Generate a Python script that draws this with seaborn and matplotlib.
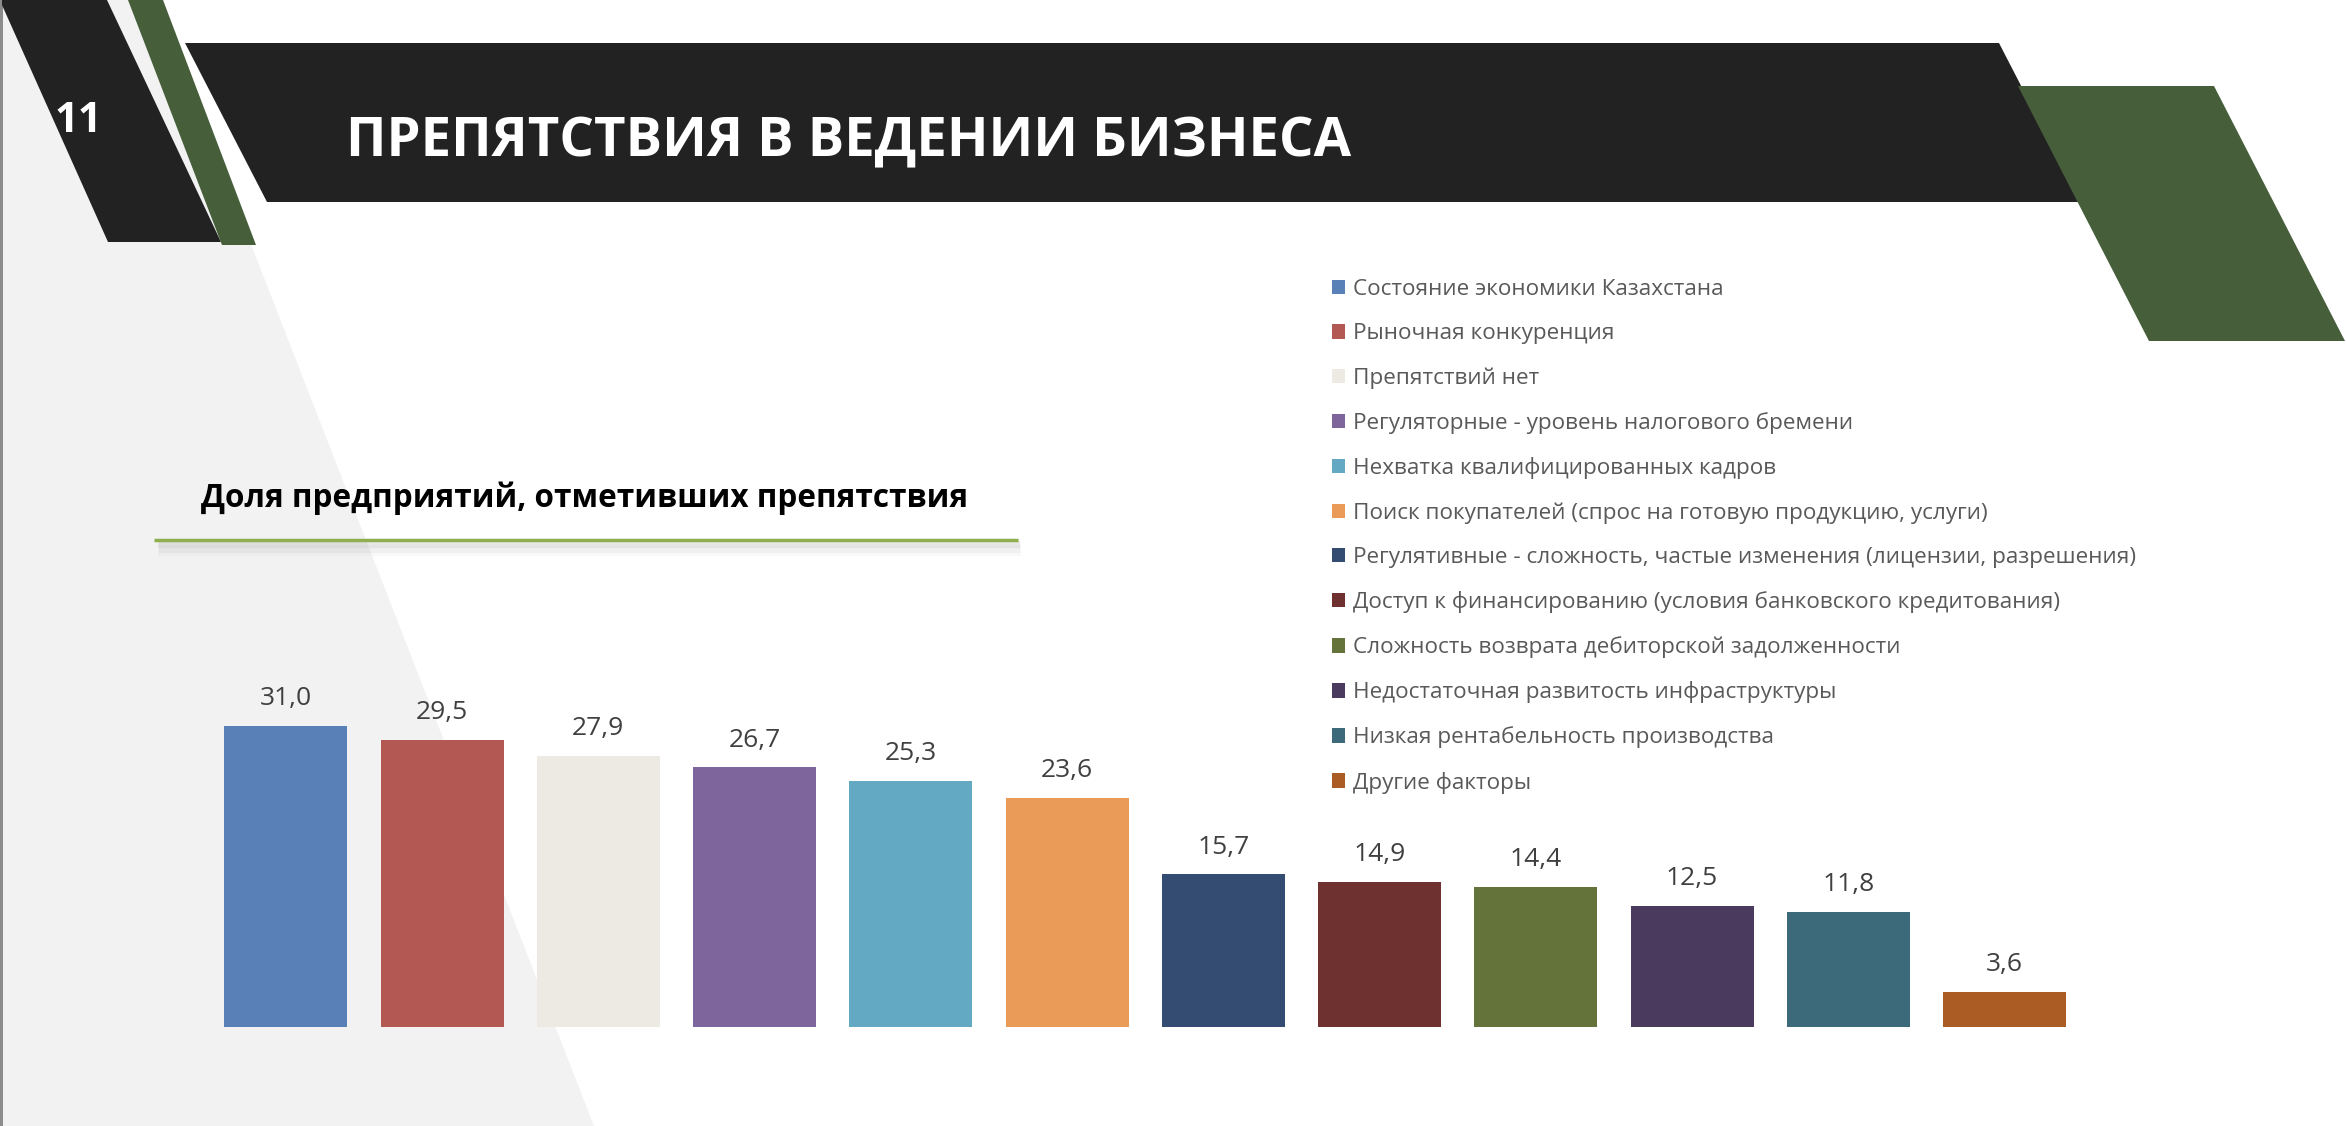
import numpy as np
import pandas as pd
import matplotlib
matplotlib.use("Agg")
import matplotlib.pyplot as plt
from matplotlib.patches import Polygon, Patch
import seaborn as sns

# ---------------- data ----------------
categories = [
    "Состояние экономики Казахстана",
    "Рыночная конкуренция",
    "Препятствий нет",
    "Регуляторные - уровень налогового бремени",
    "Нехватка квалифицированных кадров",
    "Поиск покупателей (спрос на готовую продукцию, услуги)",
    "Регулятивные - сложность, частые изменения (лицензии, разрешения)",
    "Доступ к финансированию (условия банковского кредитования)",
    "Сложность возврата дебиторской задолженности",
    "Недостаточная развитость инфраструктуры",
    "Низкая рентабельность производства",
    "Другие факторы",
]
values = [31.0, 29.5, 27.9, 26.7, 25.3, 23.6, 15.7, 14.9, 14.4, 12.5, 11.8, 3.6]
colors = ["#5A80B8", "#B35853", "#EDEAE3", "#7E659C", "#64A9C4", "#EA9B57",
          "#344C72", "#6F3030", "#637339", "#4A3B5E", "#3C6A7A", "#AA5C24"]
title = "ПРЕПЯТСТВИЯ В ВЕДЕНИИ БИЗНЕСА"
subtitle = "Доля предприятий, отметивших препятствия"
slide_number = "11"

value_labels = [f"{v:.1f}".replace(".", ",") for v in values]
df = pd.DataFrame({"category": categories, "value": values})

# ---------------- figure ----------------
W, H, DPI = 2346, 1126, 100
sns.set_theme(style="white")
plt.rcParams["font.family"] = ["Open Sans", "DejaVu Sans"]

fig = plt.figure(figsize=(W / DPI, H / DPI), dpi=DPI)
fig.patch.set_facecolor("white")

# background decoration axes in pixel coordinates
bg = fig.add_axes([0, 0, 1, 1], zorder=0)
bg.set_xlim(0, W)
bg.set_ylim(H, 0)
bg.axis("off")

def poly(pts, color, z=1):
    bg.add_patch(Polygon(pts, closed=True, facecolor=color, edgecolor="none", zorder=z))

poly([(0, 0), (156, 0), (594, H), (0, H)], "#F2F2F2", 1)
poly([(0, 0), (3, 0), (3, H), (0, H)], "#8C8C8C", 2)
poly([(2, 0), (107, 0), (221, 242), (108, 242), (2, 5)], "#222222", 3)
poly([(128, 0), (163, 0), (256, 245), (222, 245)], "#465E3A", 3)
poly([(185, 43), (1999, 43), (2081, 202), (267, 202)], "#222222", 3)
poly([(2018, 86), (2214, 86), (2345, 341), (2149, 341)], "#465E3A", 4)

bg.text(55, 132, slide_number, color="white", fontsize=30, fontweight="bold",
        ha="left", va="baseline", zorder=5)
bg.text(346, 156, title, color="white", fontsize=39.2, fontweight="bold",
        ha="left", va="baseline", zorder=5)
bg.text(201, 507, subtitle, color="black", fontsize=22.7, fontweight="bold",
        ha="left", va="baseline", zorder=5)

# subtitle underline with soft shadow
for dy, a, lw in [(4, 0.10, 6), (7, 0.07, 8), (10, 0.04, 8)]:
    bg.plot([158, 1020], [540 + dy, 540 + dy], color="#7F7F7F", alpha=a, lw=lw,
            solid_capstyle="butt", zorder=4)
bg.plot([154, 1018], [540, 540], color="#8FAE4E", lw=2.5, solid_capstyle="butt", zorder=5)

# ---------------- bar chart ----------------
left_px, pitch = 207.7, 156.25
ax_w = 12 * pitch
bottom_px = H - 1027
ymax = 35
px_per_unit = 9.72
ax = fig.add_axes([left_px / W, bottom_px / H, ax_w / W, ymax * px_per_unit / H], zorder=2)
ax.patch.set_alpha(0)

sns.barplot(data=df, x="category", y="value", hue="category", palette=colors,
            saturation=1, width=0.787, linewidth=0, legend=False, ax=ax)
ax.set_xlim(-0.5, 11.5)
ax.set_ylim(0, ymax)
ax.set_xlabel("")
ax.set_ylabel("")
ax.set_xticks([])
ax.set_yticks([])
for s in ax.spines.values():
    s.set_visible(False)

for i, (v, lab) in enumerate(zip(values, value_labels)):
    ax.annotate(lab, (i, v), xytext=(0, 15), textcoords="offset points",
                ha="center", va="baseline", fontsize=19, color="#404040")

# ---------------- legend ----------------
handles = [Patch(facecolor=c, edgecolor="none") for c in colors]
fs = 16.2
fig.legend(handles, categories, loc="upper left",
           bbox_to_anchor=(1331.5 / W, 1 - 279 / H), frameon=False,
           fontsize=fs, labelcolor="#595959", borderpad=0, borderaxespad=0,
           handlelength=0.62, handleheight=0.62, handletextpad=0.33,
           labelspacing=1.03)

fig.savefig("out.png", dpi=DPI, facecolor="white")
